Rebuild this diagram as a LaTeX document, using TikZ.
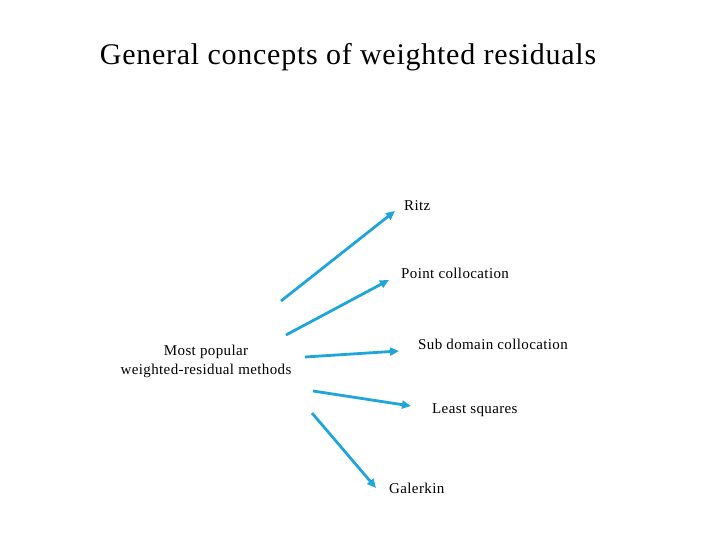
\documentclass[tikz,border=0pt]{standalone}
\usepackage{fontspec}
\setmainfont{Liberation Serif}
\newfontfamily\spacedserif[LetterSpace=2.5]{Liberation Serif}
\usetikzlibrary{arrows.meta}
\definecolor{arr}{RGB}{32,164,220}
\begin{document}
\begin{tikzpicture}[x=1pt,y=-1pt,
  lbl/.style={font=\spacedserif\fontsize{15}{18}\selectfont, inner sep=0pt, anchor=west},
  conn/.style={draw=arr, line width=2.8pt, -{Triangle[length=9pt,width=8pt]}}]
\useasboundingbox (0,0) rectangle (720,540);
\node[font=\spacedserif\fontsize{30}{34}\selectfont, inner sep=0pt] (title) at (348,57) {General concepts of weighted residuals};
\node[lbl] (ritz) at (404,206) {Ritz};
\node[lbl] (pc) at (401,273) {Point collocation};
\node[lbl] (sdc) at (418,344) {Sub domain collocation};
\node[lbl] (ls) at (432,410) {Least squares};
\node[lbl] (gal) at (389,488) {Galerkin};
\node[font=\spacedserif\fontsize{15}{19}\selectfont, inner sep=0pt, align=center] (src) at (206,361) {Most popular\\weighted-residual methods};
\coordinate (s1) at (281,301); \coordinate (e1) at (395,211);
\coordinate (s2) at (286,335); \coordinate (e2) at (389,280);
\coordinate (s3) at (305,357); \coordinate (e3) at (399,351);
\coordinate (s4) at (313,391); \coordinate (e4) at (411,406);
\coordinate (s5) at (312,413); \coordinate (e5) at (376,488);
\draw[conn] (s1) -- (e1);
\draw[conn] (s2) -- (e2);
\draw[conn] (s3) -- (e3);
\draw[conn] (s4) -- (e4);
\draw[conn] (s5) -- (e5);
\end{tikzpicture}
\end{document}
